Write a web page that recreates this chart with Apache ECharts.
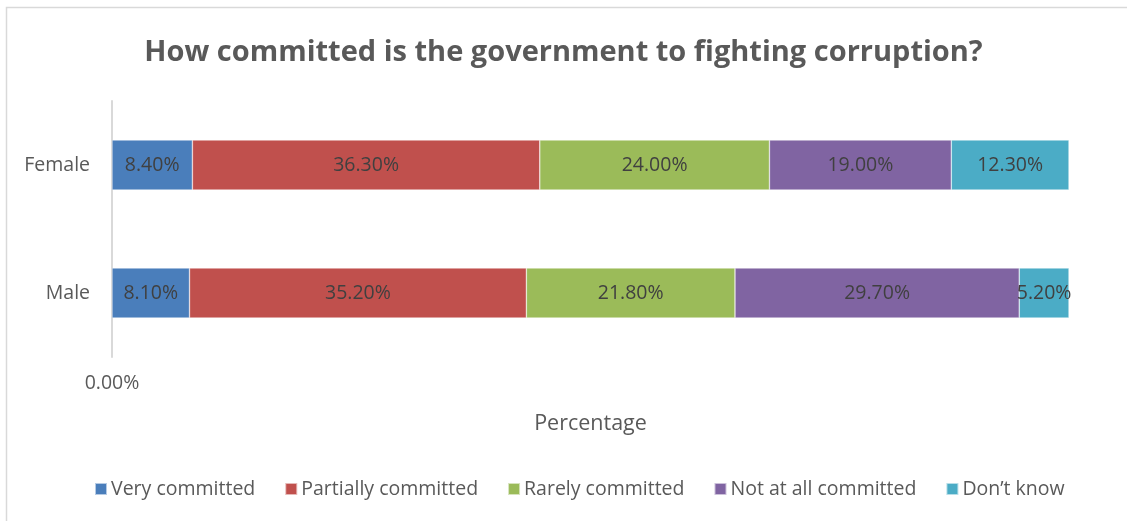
<!DOCTYPE html>
<html>
<head>
<meta charset="utf-8">
<style>
  html, body { margin: 0; padding: 0; background: #fff; }
  #chart { width: 1127px; height: 521px; }
</style>
<script src="https://cdn.jsdelivr.net/npm/echarts@6/dist/echarts.min.js"></script>
</head>
<body>
<div id="chart"></div>
<script>
// Survey answers by gender, percentages of respondents
const categories = ['Male', 'Female'];
const seriesNames = ['Very committed', 'Partially committed', 'Rarely committed', 'Not at all committed', 'Don\u2019t know'];
const veryCommitted = [8.1, 8.4];
const partiallyCommitted = [35.2, 36.3];
const rarelyCommitted = [21.8, 24.0];
const notAtAllCommitted = [29.7, 19.0];
const dontKnow = [5.2, 12.3];
const colors = ['#4A7EBB', '#C0504D', '#9BBB59', '#8064A2', '#4BACC6'];

const values = [veryCommitted, partiallyCommitted, rarelyCommitted, notAtAllCommitted, dontKnow];
const font = '"Open Sans", "Noto Sans", sans-serif';

const chart = echarts.init(document.getElementById('chart'), null, { renderer: 'canvas' });

chart.setOption({
  backgroundColor: '#ffffff',
  animation: false,
  color: colors,
  graphic: [{
    type: 'rect',
    shape: { x: 6.5, y: 7.5, width: 1200, height: 600 },
    style: { fill: 'none', stroke: '#d9d9d9', lineWidth: 1.5 },
    silent: true
  }],
  title: {
    text: 'How committed is the government to fighting corruption?',
    left: 'center',
    top: 33,
    textStyle: { fontFamily: font, fontSize: 29, fontWeight: 'bold', color: '#595959' }
  },
  legend: {
    data: seriesNames,
    bottom: 17,
    left: 89,
    itemWidth: 12,
    itemHeight: 12,
    itemGap: 29,
    icon: 'rect',
    textStyle: { fontFamily: font, fontSize: 19.5, color: '#595959', padding: [0, 0, 0, -1] }
  },
  grid: { left: 112, right: 58, top: 101, bottom: 164, containLabel: false },
  xAxis: {
    type: 'value',
    min: 0,
    max: 100,
    interval: 100,
    name: 'Percentage',
    nameLocation: 'middle',
    nameGap: 56,
    nameTextStyle: { fontFamily: font, fontSize: 21.5, color: '#595959' },
    axisLine: { show: false },
    axisTick: { show: false },
    splitLine: { show: false },
    axisLabel: {
      margin: 16,
      fontFamily: font,
      fontSize: 19.5,
      color: '#595959',
      formatter: v => (v === 0 ? '0.00%' : '')
    }
  },
  yAxis: {
    type: 'category',
    data: categories,
    axisLine: { show: true, lineStyle: { color: '#d9d9d9', width: 2 } },
    axisTick: { show: false },
    axisLabel: { margin: 22, fontFamily: font, fontSize: 19.5, color: '#595959' }
  },
  series: seriesNames.map((name, i) => ({
    name,
    type: 'bar',
    stack: 'total',
    barWidth: '39%',
    data: values[i],
    itemStyle: { color: colors[i], borderColor: 'rgba(255,255,255,0.6)', borderWidth: 0.6 },
    label: {
      show: true,
      position: 'inside',
      fontFamily: font,
      fontSize: 19.5,
      color: '#404040',
      formatter: p => p.value.toFixed(2) + '%'
    }
  }))
});
</script>
</body>
</html>
